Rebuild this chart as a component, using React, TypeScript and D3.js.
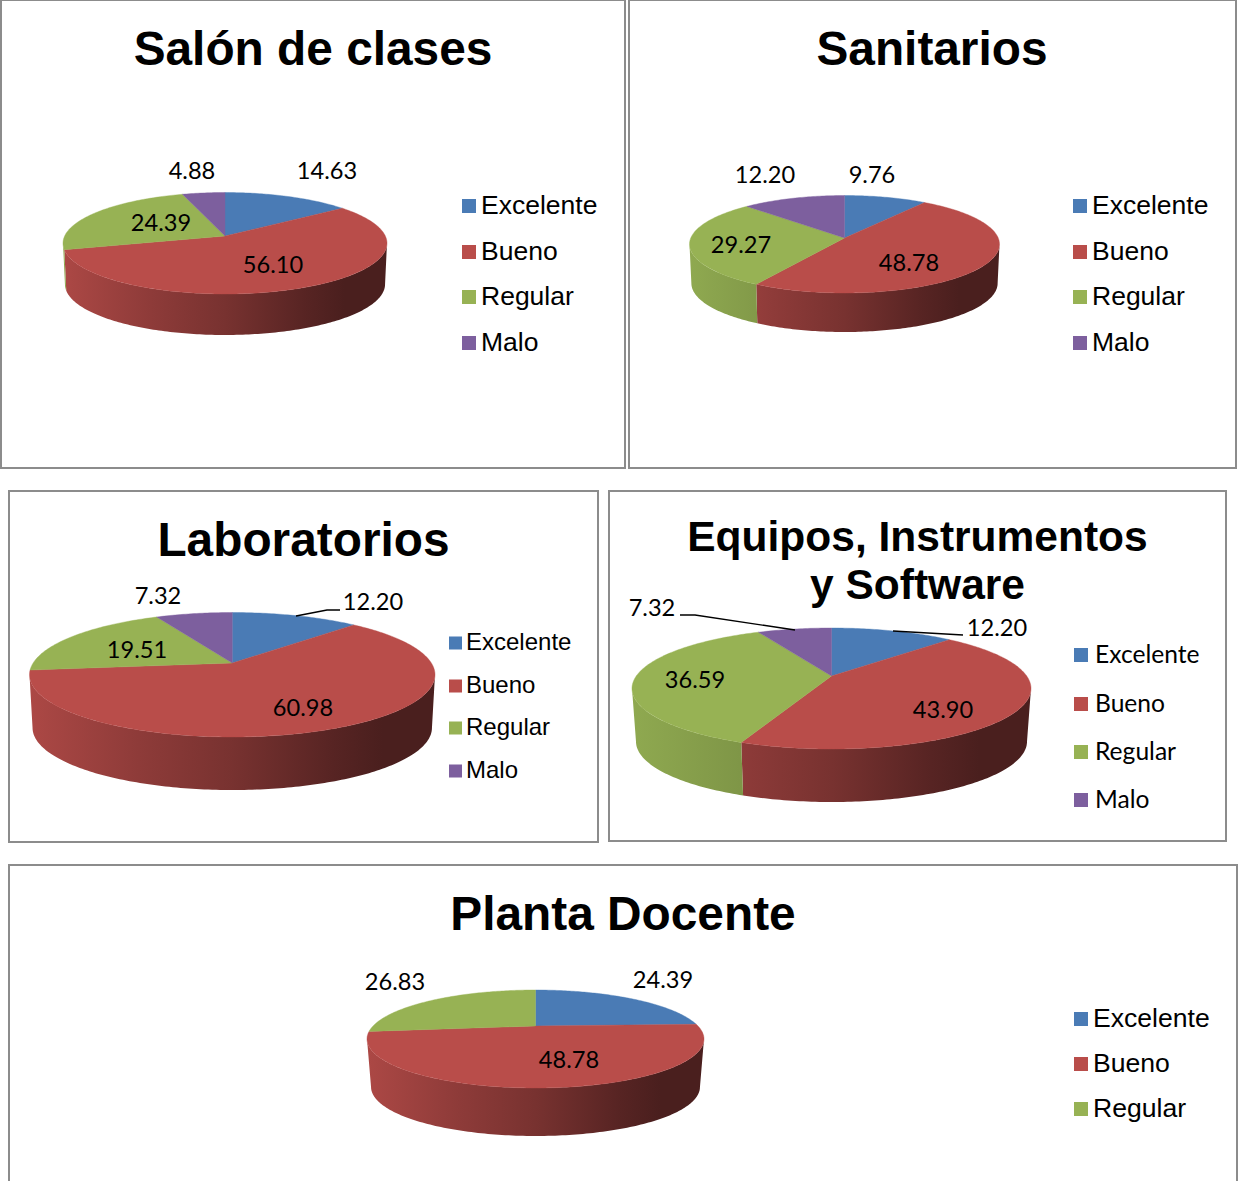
import React from "react";
import * as d3 from "d3";

const W = 1238, H = 1181;

const categories4 = ["Excelente", "Bueno", "Regular", "Malo"];
const categories3 = ["Excelente", "Bueno", "Regular"];

const salonValues = [14.63, 56.10, 24.39, 4.88];
const sanitariosValues = [9.76, 48.78, 29.27, 12.20];
const laboratoriosValues = [12.20, 60.98, 19.51, 7.32];
const equiposValues = [12.20, 43.90, 36.59, 7.32];
const plantaValues = [24.39, 48.78, 26.83];

const colors = ["#4A7BB5", "#B94D4A", "#97B254", "#7D5F9E"];
const sideStops: Record<number, [number, number][]> = {
  1: [[0, 0.93], [0.27, 0.77], [0.5, 0.65], [0.75, 0.47], [0.87, 0.4], [1, 0.4]],
  2: [[0, 0.95], [0.27, 0.84], [1, 0.6]],
};

const panels = [
  { id: "a", title: ["Salón de clases"], titleSize: 47.8, titleX: 313, titleY: [48],
    frame: [1, 0, 624, 468], cats: categories4, values: salonValues,
    left: 63, right: 387, top: 192.5, bottom: 294, apexY: 236, depth: 41, sideScale: 0.988,
    labels: [[327, 171], [273, 265], [161, 223], [192, 171]], labelSize: 23.6,
    legendX: 462, legendY: [205, 251, 296, 342], legendSize: 26.5, legendFont: "Liberation Sans", swatch: 14, legendGap: 5, leaders: [] as number[][][] },
  { id: "b", title: ["Sanitarios"], titleSize: 47.8, titleX: 932, titleY: [48],
    frame: [629, 0, 607, 468], cats: categories4, values: sanitariosValues,
    left: 689.5, right: 999.5, top: 195.5, bottom: 293, apexY: 238, depth: 39, sideScale: 0.988,
    labels: [[872, 175], [909, 263], [741, 245], [765, 175]], labelSize: 23.6,
    legendX: 1073, legendY: [205, 251, 296, 342], legendSize: 26.5, legendFont: "Liberation Sans", swatch: 14, legendGap: 5, leaders: [] as number[][][] },
  { id: "c", title: ["Laboratorios"], titleSize: 47.8, titleX: 303.5, titleY: [539],
    frame: [9, 491, 589, 351], cats: categories4, values: laboratoriosValues,
    left: 29.5, right: 435, top: 612.5, bottom: 737, apexY: 663, depth: 53, sideScale: 0.985,
    labels: [[373, 602], [303, 708], [137, 650], [158, 596]], labelSize: 23.6,
    legendX: 449, legendY: [642, 685, 727, 770], legendSize: 24, legendFont: "Liberation Sans", swatch: 13, legendGap: 4,
    leaders: [[[296, 616], [327, 610], [340, 610]]] },
  { id: "d", title: ["Equipos, Instrumentos", "y Software"], titleSize: 42.5, titleX: 917.5, titleY: [536, 584],
    frame: [609, 491, 617, 350], cats: categories4, values: equiposValues,
    left: 632, right: 1031, top: 628, bottom: 749, apexY: 676, depth: 53, sideScale: 0.98,
    labels: [[997, 628], [943, 710], [695, 680], [652, 608]], labelSize: 23.6,
    legendX: 1074, legendY: [654, 703, 751, 799], legendSize: 24.6, legendFont: "Lato", swatch: 14, legendGap: 7,
    leaders: [[[893, 631], [963, 635]], [[680, 615], [695, 615], [795, 630]]] },
  { id: "e", title: ["Planta Docente"], titleSize: 47.8, titleX: 623, titleY: [913],
    frame: [9, 865, 1228, 340], cats: categories3, values: plantaValues,
    left: 367, right: 704, top: 990, bottom: 1088, apexY: 1026, depth: 48, sideScale: 0.976,
    labels: [[663, 980], [569, 1060], [395, 982]], labelSize: 23.6,
    legendX: 1074, legendY: [1018, 1063, 1108], legendSize: 26.6, legendFont: "Liberation Sans", swatch: 14, legendGap: 5, leaders: [] as number[][][] },
];

type P = typeof panels[number];

function scaleColor(hex: string, f: number) {
  const c = d3.rgb(hex);
  return d3.rgb(c.r * f, c.g * f, c.b * f).formatHex();
}

function Pie3D({ p }: { p: P }) {
  const back = p.apexY - p.top, front = p.bottom - p.apexY;
  const k = (front - back) / (front + back);
  const b = back * (1 + k);
  const rx = (p.right - p.left) / 2;
  const a = rx * Math.sqrt(1 - k * k);
  const cx = (p.right + p.left) / 2;
  const project = (t: number, dy = 0): [number, number] => {
    const X = Math.sin(t), Y = Math.cos(t), d = 1 + k * Y;
    return [cx + (a * X) / d, p.apexY - (b * Y) / d + dy];
  };
  const arcs = d3.pie<number>().sort(null)(p.values);
  const line = d3.line();
  const tR = Math.acos(-k), tL = 2 * Math.PI - tR;
  const sampleT = (t0: number, t1: number) => {
    const n = Math.max(2, Math.ceil((t1 - t0) * 60));
    return d3.range(n + 1).map((i) => t0 + ((t1 - t0) * i) / n);
  };
  return (
    <g>
      <defs>
        {[1, 2].map((i) => (
          <linearGradient key={i} id={`side-${p.id}-${i}`} gradientUnits="userSpaceOnUse" x1={p.left} x2={p.right} y1={0} y2={0}>
            {sideStops[i].map(([o, f]) => (
              <stop key={o} offset={o} stopColor={scaleColor(colors[i], f)} />
            ))}
          </linearGradient>
        ))}
      </defs>
      {arcs.map((s, i) => {
        const t0 = Math.max(s.startAngle, tR), t1 = Math.min(s.endAngle, tL);
        if (t1 <= t0) return null;
        const ts = sampleT(t0, t1);
        const pts = [...ts.map((t) => project(t)), ...ts.slice().reverse().map((t) => {
          const q = project(t, p.depth);
          return [cx + (q[0] - cx) * p.sideScale, q[1]] as [number, number];
        })];
        return <path key={i} d={line(pts) + "Z"} fill={`url(#side-${p.id}-${i})`} />;
      })}
      {arcs.map((s, i) => {
        const pts = [[cx, p.apexY] as [number, number], ...sampleT(s.startAngle, s.endAngle).map((t) => project(t))];
        return <path key={i} d={line(pts) + "Z"} fill={colors[i]} stroke={colors[i]} strokeWidth={0.4} />;
      })}
    </g>
  );
}

function Panel({ p }: { p: P }) {
  const [fx, fy, fw, fh] = p.frame;
  return (
    <g>
      <rect x={fx} y={fy} width={fw} height={fh} fill="#fff" stroke="#8c8c8c" strokeWidth={2} />
      {p.title.map((t, i) => (
        <text key={i} x={p.titleX} y={p.titleY[i]} dy="0.35em" textAnchor="middle" fontFamily="Liberation Sans" fontWeight="bold" fontSize={p.titleSize} fill="#000">{t}</text>
      ))}
      <Pie3D p={p} />
      {p.leaders.map((l, i) => (
        <path key={i} d={d3.line()(l as [number, number][]) as string} fill="none" stroke="#000" strokeWidth={1.4} />
      ))}
      {p.values.map((v, i) => (
        <text key={i} x={p.labels[i][0]} y={p.labels[i][1]} dy="0.35em" textAnchor="middle" fontFamily="Lato" fontSize={p.labelSize} fill="#000">{v.toFixed(2)}</text>
      ))}
      {p.cats.map((c, i) => (
        <g key={c}>
          <rect x={p.legendX} y={p.legendY[i] - p.swatch / 2 + 1} width={p.swatch} height={p.swatch} fill={colors[i]} />
          <text x={p.legendX + p.swatch + p.legendGap} y={p.legendY[i]} dy="0.35em" fontFamily={p.legendFont} fontSize={p.legendSize} fill="#000">{c}</text>
        </g>
      ))}
    </g>
  );
}

export default function App() {
  return (
    <svg width={W} height={H} viewBox={`0 0 ${W} ${H}`} style={{ position: "absolute", left: 0, top: 0, background: "#fff" }}>
      {panels.map((p) => <Panel key={p.id} p={p} />)}
    </svg>
  );
}
